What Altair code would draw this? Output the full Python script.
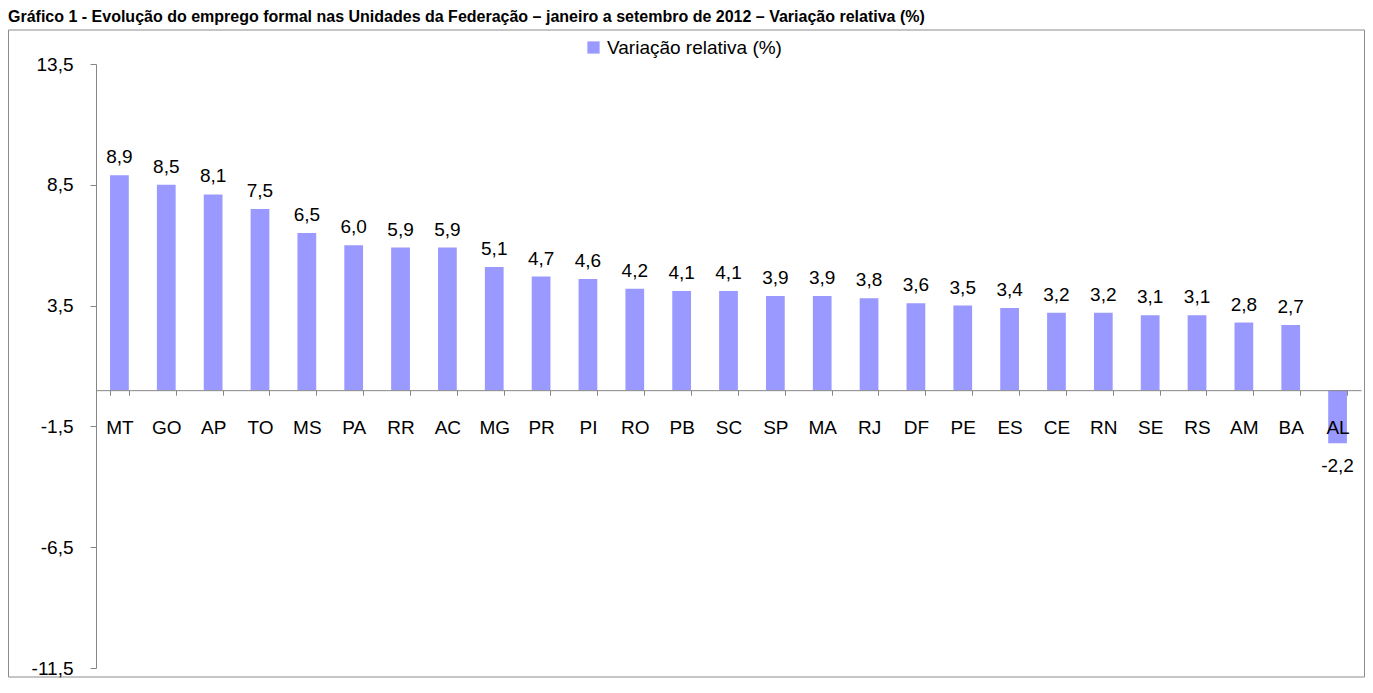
import altair as alt
import pandas as pd

# ---- data ----
ufs = ["MT", "GO", "AP", "TO", "MS", "PA", "RR", "AC", "MG", "PR", "PI", "RO", "PB", "SC",
       "SP", "MA", "RJ", "DF", "PE", "ES", "CE", "RN", "SE", "RS", "AM", "BA", "AL"]
valores = [8.9, 8.5, 8.1, 7.5, 6.5, 6.0, 5.9, 5.9, 5.1, 4.7, 4.6, 4.2, 4.1, 4.1,
           3.9, 3.9, 3.8, 3.6, 3.5, 3.4, 3.2, 3.2, 3.1, 3.1, 2.8, 2.7, -2.2]
y_ticks = [13.5, 8.5, 3.5, -1.5, -6.5, -11.5]
serie = "Variação relativa (%)"
titulo = ("Gráfico 1 - Evolução do emprego formal nas Unidades da Federação – "
          "janeiro a setembro de 2012 – Variação relativa (%)")

# ---- layout ----
W, H = 1265, 604
PAD = {"left": 88, "top": 56, "right": 4, "bottom": 10}
ymin, ymax = -11.5, 13.5
zero_off = -H * (0 - ymin) / (ymax - ymin)
FONT = "Liberation Sans"
GRAY = "#868686"
BAR = "#9999ff"

df = pd.DataFrame({"uf": ufs, "v": valores})
df["rot"] = [f"{v:.1f}".replace(".", ",") for v in valores]
df["serie"] = serie

x_enc = alt.X(
    "uf:N", sort=ufs,
    scale=alt.Scale(paddingInner=0.6, paddingOuter=0.3),
    axis=alt.Axis(title=None, orient="bottom", offset=zero_off, tickBand="extent",
                  tickSize=5, tickColor=GRAY, domainColor=GRAY, labelAngle=0,
                  labelFontSize=19, labelFont=FONT, labelColor="black",
                  labelPadding=32, labelBaseline="middle", zindex=1),
)
y_enc = alt.Y(
    "v:Q",
    scale=alt.Scale(domain=[ymin, ymax], nice=False, zero=False),
    axis=alt.Axis(title=None, values=y_ticks, grid=False,
                  labelExpr="replace(toString(datum.value), '.', ',')",
                  tickSize=6, tickColor=GRAY, domainColor=GRAY,
                  labelFontSize=19, labelFont=FONT, labelColor="black",
                  labelPadding=17, zindex=1),
)

one = alt.Data(values=[{"k": 0}])

frame = alt.Chart(one).mark_rect(fillOpacity=0, stroke="#8c8c8c", strokeWidth=1).encode(
    x=alt.value(-87.5), x2=alt.value(W + 3.5),
    y=alt.value(-34), y2=alt.value(H + 9),
)

title = alt.Chart(one).mark_text(
    align="left", baseline="top", font=FONT, fontSize=16, fontWeight="bold", color="black"
).encode(x=alt.value(-88), y=alt.value(-55), text=alt.value(titulo))

bars = alt.Chart(df).mark_bar().encode(
    x=x_enc, y=y_enc,
    color=alt.Color("serie:N", scale=alt.Scale(range=[BAR]),
                    legend=alt.Legend(title=None, orient="none", legendX=488, legendY=-26,
                                      symbolType="square", symbolSize=150,
                                      symbolStrokeWidth=0, labelFontSize=19,
                                      labelFont=FONT, labelColor="black",
                                      labelLimit=0)),
)

lab_pos = alt.Chart(df).transform_filter("datum.v >= 0").mark_text(
    baseline="alphabetic", dy=-12, font=FONT, fontSize=19, color="black"
).encode(x=x_enc, y=y_enc, text="rot:N")

lab_neg = alt.Chart(df).transform_filter("datum.v < 0").mark_text(
    baseline="alphabetic", dy=29, font=FONT, fontSize=19, color="black"
).encode(x=x_enc, y=y_enc, text="rot:N")

chart = alt.layer(frame, title, bars, lab_pos, lab_neg).properties(
    width=W, height=H,
    autosize=alt.AutoSizeParams(type="none"),
    padding=PAD,
).configure_view(strokeWidth=0)

chart.save("out.html", embed_options={"renderer": "svg", "actions": False})
